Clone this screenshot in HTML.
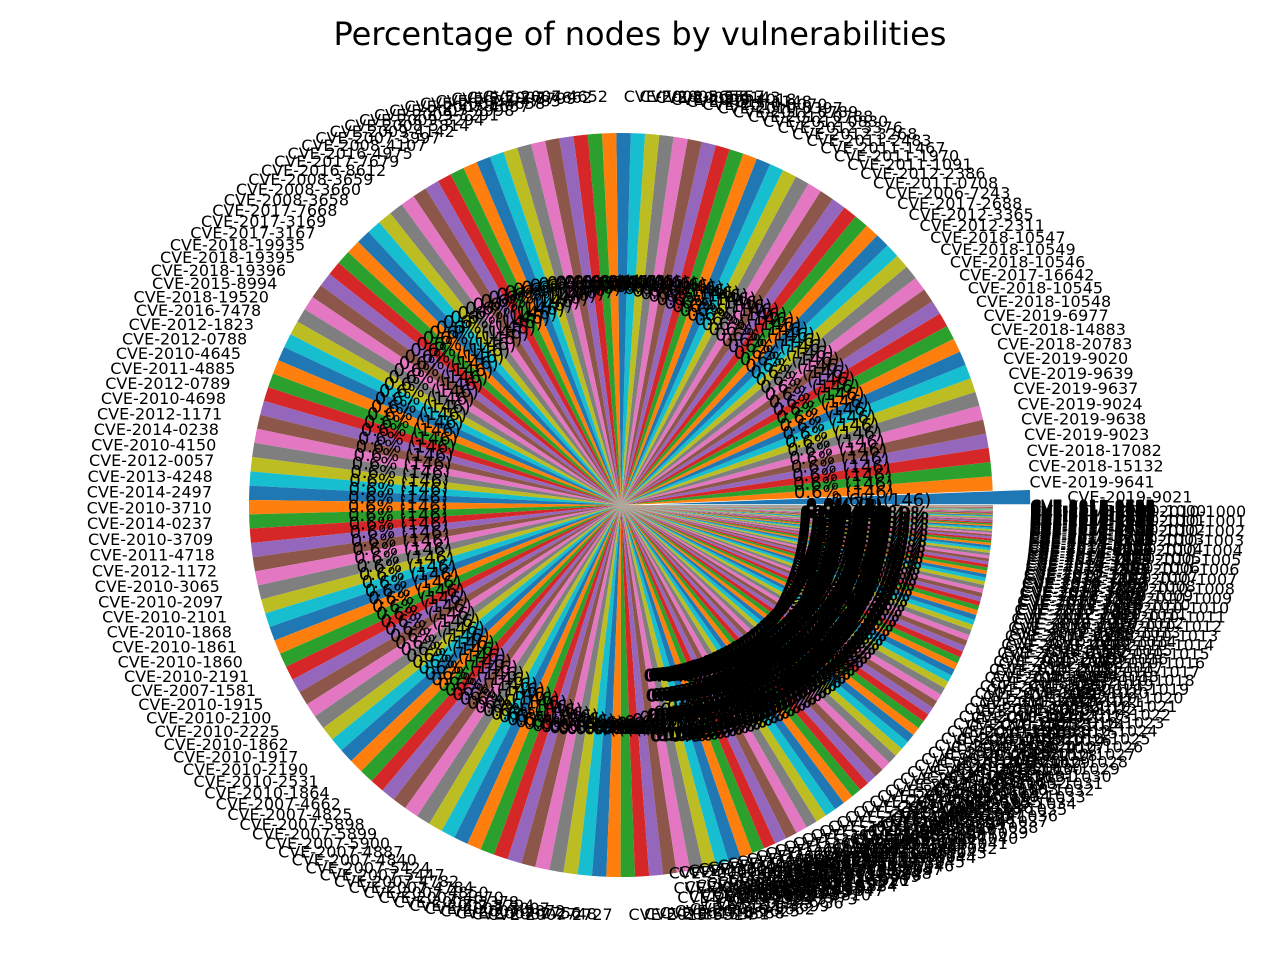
<!DOCTYPE html>
<html><head><meta charset="utf-8"><style>
body{margin:0;background:#fff;}
svg{display:block;font-family:"DejaVu Sans","Liberation Sans",sans-serif;}
</style></head><body>
<svg id="chart" width="1280" height="960" viewBox="0 0 1280 960">
<text x="640" y="45" text-anchor="middle" font-size="32">Percentage of nodes by vulnerabilities</text>
<g id="slices"></g>
<g id="labels"></g>
</svg>
<script>
const namesKnown = ["CVE-2019-9021","CVE-2019-9641","CVE-2018-15132","CVE-2018-17082","CVE-2019-9023","CVE-2019-9638","CVE-2019-9024","CVE-2019-9637","CVE-2019-9639","CVE-2019-9020","CVE-2018-20783","CVE-2018-14883","CVE-2019-6977","CVE-2018-10548","CVE-2018-10545","CVE-2017-16642","CVE-2018-10546","CVE-2018-10549","CVE-2018-10547","CVE-2012-2311","CVE-2012-3365","CVE-2017-2688","CVE-2006-7243","CVE-2011-0708","CVE-2012-2386","CVE-2011-1091","CVE-2011-1970","CVE-2011-1467","CVE-2011-2483","CVE-2012-3268","CVE-2012-3376","CVE-2012-0830","CVE-2012-0788","CVE-2012-0789","CVE-2010-0397","CVE-2010-0070","CVE-2011-1148","CVE-2009-4018","CVE-2009-4143","CVE-2008-5557","CVE-2008-5658","CVE-2007-4652","CVE-2007-4662","CVE-2007-3799","CVE-2007-4783","CVE-2007-4658","CVE-2007-4657","CVE-2007-3998","CVE-2009-3291","CVE-2009-3294","CVE-2008-5814","CVE-2009-4142","CVE-2007-3997","CVE-2008-4107","CVE-2016-4975","CVE-2017-7679","CVE-2016-8612","CVE-2008-3659","CVE-2008-3660","CVE-2008-3658","CVE-2017-7668","CVE-2017-3169","CVE-2017-3167","CVE-2018-19935","CVE-2018-19395","CVE-2018-19396","CVE-2015-8994","CVE-2018-19520","CVE-2016-7478","CVE-2012-1823","CVE-2012-0788","CVE-2010-4645","CVE-2011-4885","CVE-2012-0789","CVE-2010-4698","CVE-2012-1171","CVE-2014-0238","CVE-2010-4150","CVE-2012-0057","CVE-2013-4248","CVE-2014-2497","CVE-2010-3710","CVE-2014-0237","CVE-2010-3709","CVE-2011-4718","CVE-2012-1172","CVE-2010-3065","CVE-2010-2097","CVE-2010-2101","CVE-2010-1868","CVE-2010-1861","CVE-2010-1860","CVE-2010-2191","CVE-2007-1581","CVE-2010-1915","CVE-2010-2100","CVE-2010-2225","CVE-2010-1862","CVE-2010-1917","CVE-2010-2190","CVE-2010-2531","CVE-2010-1864","CVE-2007-4662","CVE-2007-4825","CVE-2007-5898","CVE-2007-5899","CVE-2007-5900","CVE-2007-4887","CVE-2007-4840","CVE-2007-5424","CVE-2007-5447","CVE-2007-4782","CVE-2007-4784","CVE-2007-4850","CVE-2007-4670","CVE-2007-3378","CVE-2007-3294","CVE-2007-3007","CVE-2007-2872","CVE-2007-2756","CVE-2007-2748","CVE-2007-2727"];
const bigValues = [146,146,146,146,146,146,146,146,146,146,146,146,146,146,146,146,146,146,146,146,146,146,146,146,146,146,146,146,146,146,146,146,146,146,146,146,146,146,146,146,146,146,146,146,146,146,146,146,146,146,146,146,146,146,146,146,146,146,146,146,146,146,146,146,146,146,146,146,146,146,146,146,146,146,146,146,146,146,146,146,146,146,146,146,146,146,146,146,146,146,146,146,146,146,146,146,146,146,146,146,146,146,146,146,146,146,146,146,146,146,146,146,146,146,146,146,146,146,146,146,146,146,146];
const tailValues = [144,142,140,138,136,134,132,130,128,126,124,122,120,118,116,114,112,110,108,106,104,102,100,98,96,94,92,90,88,86,84,82,80,78,76,74,72,70,68,66,64,62,60,58,56,55,54,52,50,48,46,45,44,42,40,39,38,36,35,34,32,31,30,29,28,27,26,25,24,23,22,21,20,19,18,17,16,15,14,14,13,12,12,11,10,10,9,9,8,8,7,7,6,6,6,5,5,5,4,4,4,3,3,3,3,2,2,2,2,2,1,1,1,1];
const values = bigValues.concat(tailValues);
const names = values.map((v,i)=> i<namesKnown.length ? namesKnown[i] : "CVE-20"+(10+(i%9))+"-"+(1000+i*37%9000));
const colors = ["#1f77b4","#ff7f0e","#2ca02c","#d62728","#9467bd","#8c564b","#e377c2","#7f7f7f","#bcbd22","#17becf"];

const cx=621, cy=505, R=372;
const total = values.reduce((a,b)=>a+b,0);
const NS="http://www.w3.org/2000/svg";
const gS=document.getElementById('slices'), gL=document.getElementById('labels');
function pt(r,deg,ox,oy){const a=deg*Math.PI/180;return [ox+r*Math.cos(a), oy-r*Math.sin(a)];}
let start=0;
values.forEach((v,i)=>{
  const span=v/total*360, end=start+span, mid=start+span/2;
  const ex = i===0 ? 0.1*R : 0;
  const [ox,oy]=pt(ex,mid,cx,cy);
  const [x1,y1]=pt(R,start,ox,oy), [x2,y2]=pt(R,end,ox,oy);
  const p=document.createElementNS(NS,'path');
  p.setAttribute('d',`M${ox},${oy}L${x1},${y1}A${R},${R} 0 ${span>180?1:0} 0 ${x2},${y2}Z`);
  p.setAttribute('fill',colors[i%10]);
  
  
  gS.appendChild(p);
  const [lx,ly]=pt(1.1*R,mid,ox,oy);
  const t=document.createElementNS(NS,'text');
  t.setAttribute('x',lx);t.setAttribute('y',ly+6);t.setAttribute('font-size','16');
  t.setAttribute('text-anchor',Math.cos(mid*Math.PI/180)>=0?'start':'end');
  t.textContent=names[i];
  
  
  gL.appendChild(t);
  const [px,py]=pt(0.6*R,mid,ox,oy);
  const q=document.createElementNS(NS,'text');
  q.setAttribute('x',px);q.setAttribute('y',py+6);q.setAttribute('font-size','18');
  q.setAttribute('text-anchor','middle');
  q.textContent=(v/total*100).toFixed(1)+"% ("+v+")";
  
  
  gL.appendChild(q);
  start=end;
});
// overlapping label smears for the crowded tail (lower right)
const smearN=60;
for(let k=0;k<smearN;k++){
  const f=k/smearN;
  const ang=-1-f*85;
  [0.5,0.56,0.62,0.68].forEach(r=>{
    const a=ang*Math.PI/180;
    const px=cx+30+r*R*Math.cos(a), py=cy+10-r*0.9*R*Math.sin(a);
    const q=document.createElementNS(NS,'text');
    q.setAttribute('x',px);q.setAttribute('y',py);q.setAttribute('font-size','18');
    q.setAttribute('font-weight','bold');
    q.setAttribute('text-anchor','middle');q.textContent="0.0%";
    
    
    gL.appendChild(q);
  });
  [[400,370],[450,385],[490,395]].forEach(rr=>{
    const a=ang*Math.PI/180;
    const lx=cx+10+rr[0]*Math.cos(a), ly=cy+5-rr[1]*Math.sin(a);
    const t=document.createElementNS(NS,'text');
    t.setAttribute('x',lx);t.setAttribute('y',ly);t.setAttribute('font-size','16');
    t.textContent="CVE-2010-"+(1000+k);
    
    
    gL.appendChild(t);
  });
}
</script>
</body></html>
